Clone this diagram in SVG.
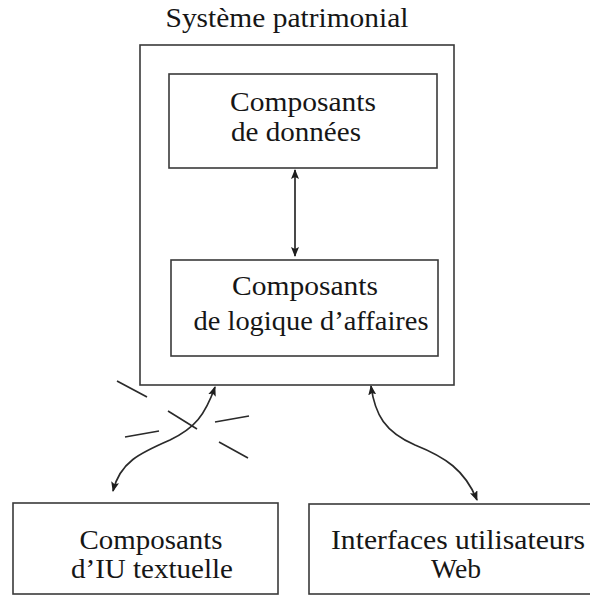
<svg xmlns="http://www.w3.org/2000/svg" width="590" height="596" viewBox="0 0 590 596">
<style>
.box{fill:none;stroke:#3a3a3a;stroke-width:1.6}
.t{font-family:"Liberation Serif","Times New Roman",serif;font-size:27px;fill:#161616;text-anchor:middle}
.c{fill:none;stroke:#2a2a2a;stroke-width:1.7}
.h{stroke:#2a2a2a;stroke-width:1.6}
</style>
<defs>
<marker id="ah" viewBox="0 0 10 8" refX="9" refY="4" markerWidth="10" markerHeight="8" markerUnits="userSpaceOnUse" orient="auto-start-reverse">
<path d="M0,0 L10,4 L0,8 L2,4 Z" fill="#1e1e1e"/>
</marker>
</defs>
<rect width="590" height="596" fill="#ffffff"/>
<g id="systeme">
<rect class="box" x="140" y="45" width="314" height="340"/>
<text class="t" x="287" y="27" textLength="243" lengthAdjust="spacingAndGlyphs">Système patrimonial</text>
</g>
<g id="donnees">
<rect class="box" x="169" y="74" width="268" height="94"/>
<text class="t" x="303" y="111" textLength="146" lengthAdjust="spacingAndGlyphs">Composants</text>
<text class="t" x="296" y="141" textLength="130" lengthAdjust="spacingAndGlyphs">de données</text>
</g>
<g id="logique">
<rect class="box" x="171" y="260" width="267" height="96"/>
<text class="t" x="305" y="295" textLength="146" lengthAdjust="spacingAndGlyphs">Composants</text>
<text class="t" x="311" y="330" textLength="235" lengthAdjust="spacingAndGlyphs">de logique d’affaires</text>
</g>
<g id="textuelle">
<rect class="box" x="13" y="503" width="265" height="91"/>
<text class="t" x="151" y="549" textLength="143" lengthAdjust="spacingAndGlyphs">Composants</text>
<text class="t" x="152" y="578" textLength="162" lengthAdjust="spacingAndGlyphs">d’IU textuelle</text>
</g>
<g id="web">
<rect class="box" x="309" y="504" width="300" height="90"/>
<text class="t" x="458" y="549" textLength="254" lengthAdjust="spacingAndGlyphs">Interfaces utilisateurs</text>
<text class="t" x="456" y="578" textLength="50" lengthAdjust="spacingAndGlyphs">Web</text>
</g>
<g id="connecteurs">
<path class="c" d="M295,170 L295,256" marker-start="url(#ah)" marker-end="url(#ah)"/>
<path class="c" d="M215,387 C205,415 195,428 170,440 C140,453 120,462 113,491" marker-start="url(#ah)" marker-end="url(#ah)"/>
<path class="c" d="M371,386 C375,415 385,432 415,445 C445,457 465,470 477,500" marker-start="url(#ah)" marker-end="url(#ah)"/>
<line class="h" x1="117" y1="381" x2="147" y2="397"/>
<line class="h" x1="168" y1="411" x2="197" y2="429"/>
<line class="h" x1="125" y1="437" x2="159" y2="431"/>
<line class="h" x1="215" y1="422" x2="249" y2="416"/>
<line class="h" x1="219" y1="442" x2="248" y2="458"/>
</g>
</svg>
